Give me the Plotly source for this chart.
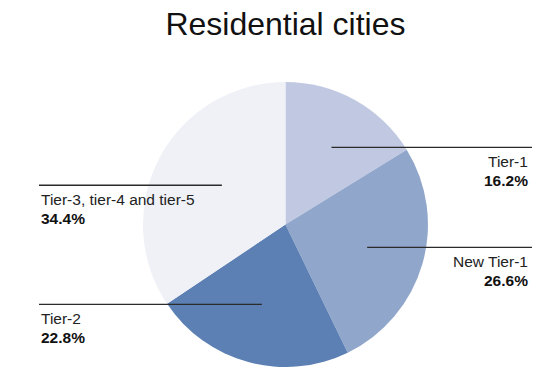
import math
import plotly.graph_objects as go

# Share of residents by city tier
categories = ["Tier-1", "New Tier-1", "Tier-2", "Tier-3, tier-4 and tier-5"]
shares = [16.2, 26.6, 22.8, 34.4]
colors = ["#c0c9e1", "#91a6cb", "#5c80b4", "#eff1f7"]
# which side of the pie each label sits on
label_sides = ["right", "right", "left", "left"]
# where each leader line starts inside its slice (fraction of radius, px nudge)
leader_depth = [0.62, 0.575, 0.58, 0.585]
leader_nudge = [3, 3, -2, 10]

W, H = 550, 367
M_TOP, M_BOT = 82, 0
DOM_X = [0.2, 0.838]
FONT = "Liberation Sans, Arial, Helvetica, sans-serif"

fig = go.Figure(
    go.Pie(
        labels=categories,
        values=shares,
        sort=False,
        direction="clockwise",
        rotation=0,
        marker=dict(colors=colors, line=dict(width=0)),
        textinfo="none",
        hoverinfo="label+percent",
        showlegend=False,
        domain=dict(x=DOM_X, y=[0, 1]),
    )
)

# pie geometry in pixels, derived from the domain
plot_h = H - M_TOP - M_BOT
dom_w = (DOM_X[1] - DOM_X[0]) * W
R = min(dom_w, plot_h) / 2
cx = (DOM_X[0] + DOM_X[1]) / 2 * W
cy = M_TOP + plot_h / 2


def px_to_paper(x, y):
    return x / W, (H - M_BOT - y) / plot_h


total = sum(shares)
cum = 0.0
shapes, annotations = [], []
for name, val, side, depth, nudge in zip(categories, shares, label_sides,
                                         leader_depth, leader_nudge):
    mid = (cum + val / 2) / total * 2 * math.pi
    cum += val
    # leader line starts inside the slice, along its middle direction
    r_in = depth * R
    x0 = cx + r_in * math.sin(mid) + nudge
    y0 = cy - r_in * math.cos(mid)
    x1 = 532 if side == "right" else 39
    p0 = px_to_paper(x0, y0)
    p1 = px_to_paper(x1, y0)
    shapes.append(dict(type="line", xref="paper", yref="paper",
                       x0=p0[0], y0=p0[1], x1=p1[0], y1=p1[1],
                       line=dict(color="#2b2b2b", width=1.3)))
    anchor = "right" if side == "right" else "left"
    xa = (x1 - 2) / W if side == "right" else x1 / W
    pa = px_to_paper(0, y0 + 14)
    pb = px_to_paper(0, y0 + 33)
    annotations.append(dict(xref="paper", yref="paper", x=xa, y=pa[1],
                            text=name, showarrow=False, xanchor=anchor,
                            yanchor="middle", align=anchor,
                            font=dict(family=FONT, size=15.5, color="#222222")))
    annotations.append(dict(xref="paper", yref="paper", x=xa, y=pb[1],
                            text=f"<b>{val:.1f}%</b>", showarrow=False,
                            xanchor=anchor, yanchor="middle", align=anchor,
                            font=dict(family=FONT, size=15.5, color="#111111")))

fig.update_layout(
    width=W,
    height=H,
    margin=dict(l=0, r=0, t=M_TOP, b=M_BOT),
    paper_bgcolor="white",
    plot_bgcolor="white",
    title=dict(text="Residential cities", x=cx / W, xanchor="center",
               y=1 - 24 / H, yanchor="middle", yref="container",
               font=dict(family=FONT, size=32, color="#111111")),
    shapes=shapes,
    annotations=annotations,
)

fig.write_html("out.html")
